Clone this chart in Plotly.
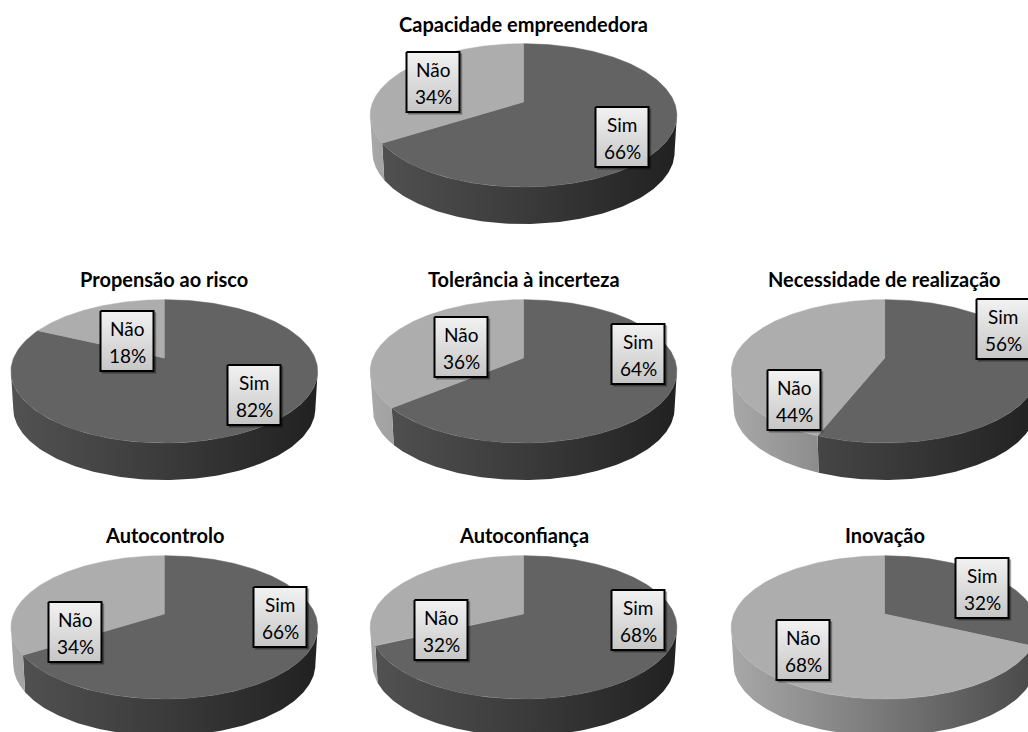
import numpy as np
import plotly.graph_objects as go

# ---- data ----
titles = ["Capacidade empreendedora", "Propensão ao risco", "Tolerância à incerteza",
          "Necessidade de realização", "Autocontrolo", "Autoconfiança", "Inovação"]
categories = ["Sim", "Não"]
sim_values = [66, 82, 64, 56, 66, 68, 32]
nao_values = [34, 18, 36, 44, 34, 32, 68]

# ---- layout (page pixels) ----
W, H = 1028, 732
centres = [(523.5, 102), (164.3, 358), (523.5, 358), (884.7, 358), (164.3, 614), (523.5, 614), (884.5, 614)]
title_y = [24, 279, 279, 279, 535, 535, 535]
sim_boxes = [(622, 137), (254, 395), (638, 354), (1003, 329), (280, 617), (638, 620), (982, 588)]
nao_boxes = [(433, 82), (127, 341), (461, 347), (794, 400), (75, 632), (441, 630), (803, 650)]

RX, RY, K, DEPTH = 150.7, 69.2, 0.186, 37
TOP = {"Sim": "#636363", "Não": "#adadad"}
WALL = {"Sim": [[0, "#525252"], [0.5, "#3b3b3b"], [1, "#212121"]],
        "Não": [[0, "#a8a8a8"], [0.5, "#787878"], [1, "#484848"]]}
BOX_W, BOX_H = 53, 60


def rim(cx, cy, theta, dy=0.0, shrink=1.0):
    """Perspective projection of the pie's circular rim; theta clockwise from 12 o'clock."""
    u, v = np.sin(theta), np.cos(theta)
    w = 1 + K * v
    return cx + shrink * RX * u / w, cy - RY * v / w + dy


fig = go.Figure()


def polygon(xs, ys, **kw):
    fig.add_trace(go.Scatter(x=list(xs), y=list(ys), mode="lines", fill="toself",
                             hoverinfo="skip", showlegend=False, **kw))


vis0 = np.arccos(-K)
vis1 = 2 * np.pi - vis0

for (cx, cy), sim, nao in zip(centres, sim_values, nao_values):
    edges = [0.0, 2 * np.pi * sim / (sim + nao), 2 * np.pi]
    half_w = RX / np.sqrt(1 - K ** 2)
    # side walls first
    for name, a, b in zip(categories, edges[:-1], edges[1:]):
        lo, hi = max(a, vis0), min(b, vis1)
        if hi <= lo:
            continue
        t = np.linspace(lo, hi, 120)
        x1, y1 = rim(cx, cy, t)
        x2, y2 = rim(cx, cy, t[::-1], DEPTH, 0.985)
        polygon(np.r_[x1, x2], np.r_[y1, y2], line=dict(width=0),
                fillgradient=dict(type="horizontal", colorscale=WALL[name],
                                  start=cx - half_w, stop=cx + half_w))
    # top faces
    for name, a, b in zip(categories, edges[:-1], edges[1:]):
        t = np.linspace(a, b, 240)
        x, y = rim(cx, cy, t)
        polygon(np.r_[cx, x, cx], np.r_[cy, y, cy], line=dict(width=0.5, color=TOP[name]),
                fillcolor=TOP[name])

annotations = []
FONT = "Lato, Carlito, Calibri, sans-serif"
for cat, vals, boxes in (("Sim", sim_values, sim_boxes), ("Não", nao_values, nao_boxes)):
    for v, (bx, by) in zip(vals, boxes):
        l, r, tp, bt = bx - BOX_W / 2, bx + BOX_W / 2, by - BOX_H / 2, by + BOX_H / 2
        polygon([l + 2, r + 2, r + 2, l + 2, l + 2], [tp + 2, tp + 2, bt + 2, bt + 2, tp + 2],
                line=dict(width=1.5, color="rgba(0,0,0,0.25)"), fillcolor="rgba(0,0,0,0.25)")
        polygon([l, r, r, l, l], [tp, tp, bt, bt, tp], line=dict(width=2, color="#000000"),
                fillgradient=dict(type="vertical",
                                  colorscale=[[0, "#f2f2f2"], [1, "#c6c6c6"]],
                                  start=tp, stop=bt))
        for text, yy in ((cat, by - 13), (f"{v}%", by + 14)):
            annotations.append(dict(x=bx, y=yy, text=text, showarrow=False, xanchor="center",
                                    yanchor="middle", font=dict(family=FONT, size=19, color="#000000")))

for title, (cx, _), ty in zip(titles, centres, title_y):
    annotations.append(dict(x=cx, y=ty, text=f"<b>{title}</b>", showarrow=False, xanchor="center",
                            yanchor="middle", font=dict(family=FONT, size=20, color="#000000")))

fig.update_layout(
    width=W, height=H, margin=dict(l=0, r=0, t=0, b=0), showlegend=False,
    paper_bgcolor="white", plot_bgcolor="white", annotations=annotations,
    xaxis=dict(range=[0, W], visible=False, fixedrange=True),
    yaxis=dict(range=[H, 0], visible=False, fixedrange=True),
)
fig.write_html("out.html", config={"displayModeBar": False},
               post_script="document.body.style.margin='0';")
